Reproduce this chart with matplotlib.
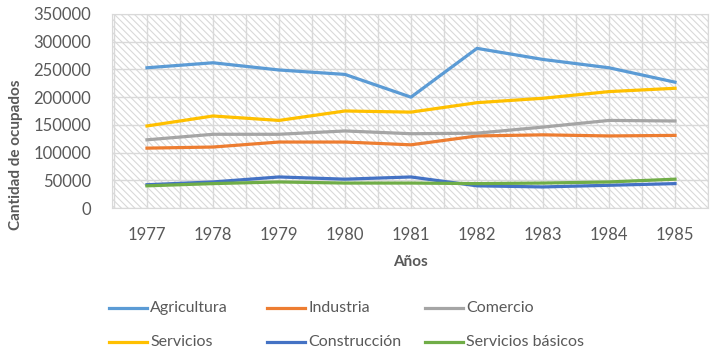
import matplotlib.pyplot as plt
from matplotlib.lines import Line2D
import numpy as np

years = ['1977', '1978', '1979', '1980', '1981', '1982', '1983', '1984', '1985']
agricultura = [253000, 262000, 249000, 241000, 200000, 288000, 268000, 253000, 227000]
industria = [108000, 110000, 119000, 119000, 114000, 130000, 132000, 130000, 131000]
comercio = [123000, 133000, 133000, 139000, 134000, 135000, 146000, 158000, 157000]
servicios = [148000, 166000, 158000, 175000, 173000, 190000, 198000, 210000, 216000]
construccion = [42000, 47000, 56000, 52000, 56000, 40000, 38000, 41000, 44000]
serv_basicos = [40000, 44000, 47000, 45000, 45000, 44000, 45000, 47000, 52000]

series = [
    ('Agricultura', agricultura, '#5b9bd5'),
    ('Industria', industria, '#ed7d31'),
    ('Comercio', comercio, '#a5a5a5'),
    ('Servicios', servicios, '#ffc000'),
    ('Construcción', construccion, '#4472c4'),
    ('Servicios básicos', serv_basicos, '#70ad47'),
]

plt.rcParams['font.family'] = ['Lato', 'DejaVu Sans']
plt.rcParams['hatch.color'] = '#d9d9d9'
plt.rcParams['hatch.linewidth'] = 0.8
grey = '#595959'

fig = plt.figure(figsize=(7.12, 3.61), dpi=100)
ax = fig.add_axes([112 / 712, 1 - 208 / 361, 596 / 712, 194 / 361])

x = np.arange(len(years))
ax.patch.set_facecolor('white')
ax.patch.set_hatch('\\\\\\\\\\')
ax.patch.set_edgecolor('#d9d9d9')

for name, vals, color in series:
    ax.plot(x, vals, color=color, lw=2.3, label=name)

ax.set_xlim(-0.53, 8.5)
ax.set_ylim(0, 350000)
ax.set_yticks(np.arange(0, 350001, 50000))
ax.set_xticks(x)
ax.set_xticklabels(years)
ax.set_xticks(np.arange(-0.5, 8.6, 0.5), minor=True)
ax.grid(True, which='major', axis='y', color='#d9d9d9', lw=1)
ax.grid(True, which='both', axis='x', color='#d9d9d9', lw=1)
ax.set_axisbelow(True)
ax.tick_params(which='both', length=0, colors=grey, labelsize=12)
ax.tick_params(axis='x', pad=14)
ax.tick_params(axis='y', pad=15)
for s in ax.spines.values():
    s.set_color('#d9d9d9')

ax.set_xlabel('Años', fontsize=11, fontweight='bold', color=grey, labelpad=8)
fig.text(16 / 712, 1 - 155 / 361, 'Cantidad de ocupados', rotation=90, fontsize=11,
         fontweight='bold', color=grey, ha='center', va='center')

# legend entries, 3 columns x 2 rows
col_x = [109, 267, 425]
row_y = [308, 342]
for k, (name, vals, color) in enumerate(series):
    cx = col_x[k % 3]
    cy = row_y[k // 3]
    fig.add_artist(Line2D([cx / 712, (cx + 38) / 712], [1 - cy / 361, 1 - cy / 361],
                          color=color, lw=2.3, transform=fig.transFigure))
    fig.text((cx + 41) / 712, 1 - cy / 361, name, fontsize=11.5, color=grey,
             ha='left', va='center')

fig.savefig('out.png', dpi=100)
